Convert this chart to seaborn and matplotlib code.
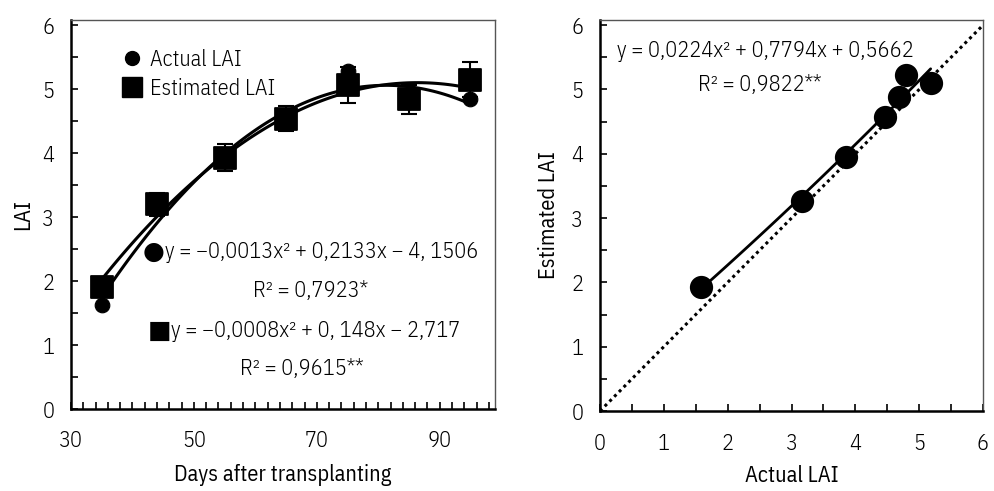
import numpy as np
import pandas as pd
import matplotlib
matplotlib.use("Agg")
import matplotlib.pyplot as plt
import seaborn as sns
from matplotlib.ticker import MultipleLocator
from matplotlib.lines import Line2D

# ---- data ----
days = [35, 44, 55, 65, 75, 85, 95]
actual_lai = [1.62, 3.16, 3.88, 4.50, 5.28, 4.80, 4.85]
estimated_lai = [1.90, 3.20, 3.93, 4.54, 5.06, 4.84, 5.15]
estimated_err = [0.05, 0.18, 0.21, 0.20, 0.28, 0.23, 0.27]

scatter_actual = [1.59, 3.16, 3.86, 4.47, 4.68, 4.79, 5.18]
scatter_estimated = [1.93, 3.27, 3.95, 4.57, 4.88, 5.22, 5.10]

legend_labels = ["Actual LAI", "Estimated LAI"]
eq_actual = "y = −0,0013x² + 0,2133x − 4, 1506"
r2_actual = "R² = 0,7923*"
eq_est = "y = −0,0008x² + 0, 148x − 2,717"
r2_est = "R² = 0,9615**"
eq_scatter = "y = 0,0224x² + 0,7794x + 0,5662"
r2_scatter = "R² = 0,9822**"

sns.set_style("white")
plt.rcParams['font.family'] = ['IBM Plex Sans Condensed', 'DejaVu Sans']
plt.rcParams['font.weight'] = 300
for k in ("text.color", "axes.labelcolor", "xtick.color", "ytick.color"):
    plt.rcParams[k] = "black"
FS = 16

df = pd.DataFrame({"days": days, "actual": actual_lai, "est": estimated_lai, "err": estimated_err})
ds = pd.DataFrame({"a": scatter_actual, "e": scatter_estimated})

fig = plt.figure(figsize=(9.94, 4.91), dpi=100)
ax1 = fig.add_axes([71/994, 1-409/491, (495-71)/994, (409-20)/491])
ax2 = fig.add_axes([600/994, 1-411/491, (983-600)/994, (411-20)/491])

# ---- left panel ----
sns.regplot(data=df, x="days", y="actual", order=2, ci=None, scatter=False, truncate=True,
            ax=ax1, line_kws=dict(color="black", lw=2.2))
sns.regplot(data=df, x="days", y="est", order=2, ci=None, scatter=False, truncate=True,
            ax=ax1, line_kws=dict(color="black", lw=2.2))
ax1.errorbar(df["days"], df["est"], yerr=df["err"], fmt="none", ecolor="black",
             elinewidth=1.5, capsize=6, capthick=1.5, zorder=3)
sns.scatterplot(data=df, x="days", y="actual", ax=ax1, marker="o", s=110, color="black",
                edgecolor="black", zorder=4, legend=False)
sns.scatterplot(data=df, x="days", y="est", ax=ax1, marker="s", s=260, color="black",
                edgecolor="black", zorder=5, legend=False)

ax1.set_xlim(30, 99)
ax1.set_ylim(0, 6.08)
ax1.xaxis.set_major_locator(MultipleLocator(20))
ax1.xaxis.set_minor_locator(MultipleLocator(2))
ax1.yaxis.set_major_locator(MultipleLocator(1))
ax1.yaxis.set_minor_locator(MultipleLocator(0.5))
ax1.set_xticks([30, 50, 70, 90])
ax1.set_xlabel("Days after transplanting", fontsize=FS, labelpad=9)
ax1.set_ylabel("LAI", fontsize=FS, labelpad=6)

handles = [Line2D([], [], marker="o", ls="", color="black", markersize=10),
           Line2D([], [], marker="s", ls="", color="black", markersize=14)]
ax1.legend(handles, legend_labels, loc="upper left", bbox_to_anchor=(0.08, 0.96), frameon=False,
           fontsize=FS, handletextpad=0.25, labelspacing=0.3, borderaxespad=0.2, handlelength=1.2)

ax1.text(43.4, 2.45, "●", fontsize=18, ha="center", va="center", family="DejaVu Sans")
ax1.text(45.3, 2.45, eq_actual, fontsize=FS, ha="left", va="center")
ax1.text(69.0, 1.85, r2_actual, fontsize=FS, ha="center", va="center")
ax1.text(44.4, 1.22, "■", fontsize=18, ha="center", va="center", family="DejaVu Sans")
ax1.text(46.3, 1.22, eq_est, fontsize=FS, ha="left", va="center")
ax1.text(67.5, 0.63, r2_est, fontsize=FS, ha="center", va="center")

# ---- right panel ----
ax2.plot([0, 6], [0, 6], ls=(0, (1, 1.2)), color="black", lw=2.2, zorder=2)
sns.regplot(data=ds, x="a", y="e", order=2, ci=None, scatter=False, truncate=True, ax=ax2,
            line_kws=dict(color="black", lw=2.0))
sns.scatterplot(data=ds, x="a", y="e", ax=ax2, marker="o", s=240, color="black",
                edgecolor="black", zorder=5, legend=False)
ax2.set_xlim(0, 6)
ax2.set_ylim(0, 6.08)
ax2.xaxis.set_major_locator(MultipleLocator(1))
ax2.xaxis.set_minor_locator(MultipleLocator(0.5))
ax2.yaxis.set_major_locator(MultipleLocator(1))
ax2.yaxis.set_minor_locator(MultipleLocator(0.5))
ax2.set_xlabel("Actual LAI", fontsize=FS, labelpad=7)
ax2.set_ylabel("Estimated LAI", fontsize=FS, labelpad=8)
ax2.text(0.27, 5.6, eq_scatter, fontsize=FS, ha="left", va="center")
ax2.text(2.5, 5.07, r2_scatter, fontsize=FS, ha="center", va="center")

for ax in (ax1, ax2):
    ax.tick_params(which="both", direction="in", length=5, width=1.2, color="black",
                   top=False, right=False, left=True, bottom=True)
    ax.tick_params(axis="y", which="major", labelsize=FS, pad=12)
    for s in ("bottom", "left"):
        ax.spines[s].set_color("black")
        ax.spines[s].set_linewidth(1.8)
    for s in ("top", "right"):
        ax.spines[s].set_color("#555555")
        ax.spines[s].set_linewidth(1.0)
    ax.set_facecolor("white")
ax1.tick_params(axis="x", which="major", labelsize=FS, pad=15)
ax2.tick_params(axis="x", which="major", labelsize=FS, pad=16)

fig.savefig("out.png", dpi=100, facecolor="white")
